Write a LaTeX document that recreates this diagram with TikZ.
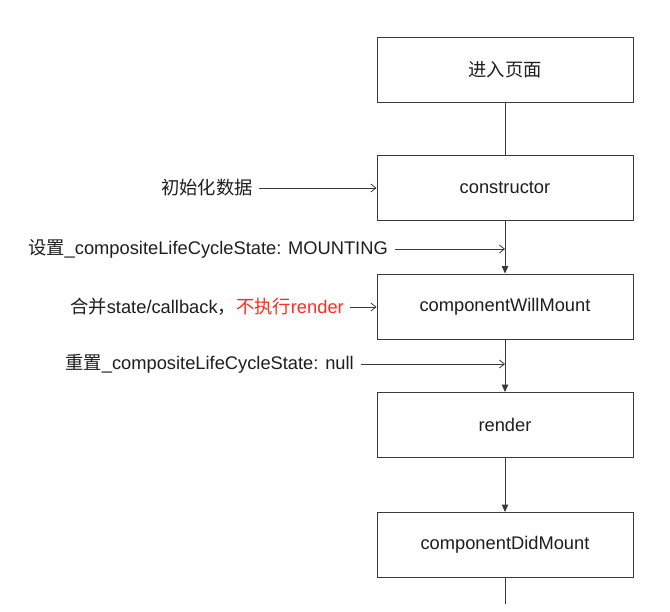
\documentclass[tikz,border=0pt]{standalone}
\usepackage{fontspec}
\setmainfont{Liberation Sans}
\newfontfamily\cjk{Noto Sans CJK SC}
\usetikzlibrary{arrows.meta}
\definecolor{txt}{HTML}{1E1E1E}
\definecolor{redtxt}{HTML}{FF2D1F}
\definecolor{ln}{HTML}{3A3A3A}
\begin{document}
\begin{tikzpicture}[x=1pt,y=-1pt,
  font=\fontsize{18.3}{22}\selectfont,
  box/.style={draw=ln, line width=0.9pt, minimum width=256pt, minimum height=65pt, inner sep=0pt, text=txt},
  lbl/.style={anchor=east, inner sep=0pt, text=txt},
  conn/.style={draw=ln, line width=0.9pt},
  flow/.style={conn, -{Triangle[length=7.5pt,width=6.5pt]}},
  side/.style={draw=ln, line width=0.8pt, -{Straight Barb[length=5pt,width=8pt]}}]
\useasboundingbox (0,0) rectangle (670,612);
\fill[white] (0,0) rectangle (670,612);
% boxes
\node[box] (b1) at (505,70) {\cjk 进入页面};
\node[box] (b2) at (505,187.5) {constructor};
\node[box] (b3) at (505,306.5) {componentWillMount};
\node[box] (b4) at (505,425) {render};
\node[box] (b5) at (505,545) {componentDidMount};
% points on the main line
\coordinate (c1) at (505,249);
\coordinate (c2) at (505,364);
\coordinate (cend) at (505,604);
% main flow
\draw[conn] (b1) -- (b2);
\draw[flow] (b2) -- (b3);
\draw[flow] (b3) -- (b4);
\draw[flow] (b4) -- (b5);
\draw[conn] (b5) -- (cend);
% side labels
\node[lbl] (l1) at (253,188) {\cjk 初始化数据};
\node[lbl] (l2) at (388,249) {{\cjk 设置}\_compositeLifeCycleState: MOUNTING};
\node[lbl] (l3) at (344,307) {{\cjk 合并}state/callback{\cjk ，}\textcolor{redtxt}{{\cjk 不执行}render}};
\node[lbl] (l4) at (354,364) {{\cjk 重置}\_compositeLifeCycleState: null};
\draw[side] ([xshift=6pt]l1.east) -- (l1.east -| b2.west);
\draw[side] ([xshift=7pt]l2.east) -- (c1);
\draw[side] ([xshift=6pt]l3.east) -- (l3.east -| b3.west);
\draw[side] ([xshift=7pt]l4.east) -- (c2);
\end{tikzpicture}
\end{document}
